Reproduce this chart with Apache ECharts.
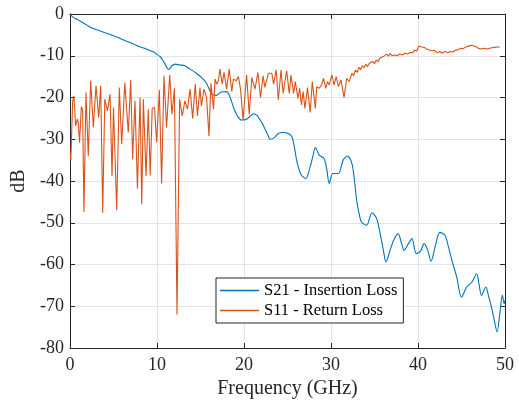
<!DOCTYPE html>
<html>
<head>
<meta charset="utf-8">
<script src="https://cdn.jsdelivr.net/npm/echarts@6/dist/echarts.min.js"></script>
<style>html,body{margin:0;padding:0;background:#fff;}#c{width:519px;height:406px;}</style>
</head>
<body>
<div id="c"></div>
<script>
// S21 - Insertion Loss
const s21Freq = [0,0.3,0.6,1.1,1.9,2.65,3.4,4.2,5.0,5.7,6.5,7.3,8.1,8.8,9.5,9.95,10.4,10.7,11.0,11.3,11.5,11.7,12.1,12.6,13.2,13.8,14.4,14.9,15.3,15.7,16.0,16.3,16.8,17.4,18.0,18.3,18.55,18.9,19.3,19.7,20.3,20.7,21.1,21.5,21.8,22.1,22.4,22.7,23.0,23.5,23.95,24.5,25.1,25.5,25.8,26.05,26.3,26.6,27.1,27.6,27.9,28.2,28.65,29.2,29.5,29.8,30.2,30.85,31.4,31.9,32.4,32.7,32.95,33.2,33.5,34.1,34.7,35.25,35.8,36.1,36.3,36.85,37.2,37.7,38.1,38.4,38.9,39.3,39.8,40.3,40.7,41.1,41.5,42.0,42.5,43.1,43.5,43.9,44.45,45.0,45.6,46.2,46.75,47.0,47.3,47.8,48.1,48.4,48.65,49.1,49.4,49.7,49.9,50.0];
const s21Db = [0,-0.7,-1.1,-1.6,-2.6,-3.5,-4.0,-4.6,-5.2,-5.8,-6.5,-7.2,-7.9,-8.4,-9.0,-9.6,-10.3,-11.2,-12.3,-13.3,-13.0,-12.4,-12.0,-12.2,-12.4,-13.2,-14.0,-14.8,-15.6,-16.6,-18.0,-19.2,-19.5,-18.7,-18.6,-19.4,-20.8,-23.0,-24.6,-25.4,-25.2,-24.5,-23.9,-24.3,-25.2,-26.2,-27.5,-28.8,-30.0,-29.6,-28.6,-28.4,-28.6,-29.4,-32.0,-35.0,-37.0,-38.6,-39.4,-36.6,-34.2,-32.0,-33.8,-34.6,-37.0,-40.6,-38.2,-38.2,-35.0,-34.0,-35.8,-40.0,-44.6,-47.5,-49.8,-50.6,-47.6,-49.0,-54.2,-57.5,-59.4,-56.2,-54.2,-52.6,-54.8,-56.6,-55.0,-53.8,-57.4,-56.8,-55.0,-56.5,-59.2,-55.5,-52.3,-53.0,-55.8,-59.0,-63.0,-67.8,-65.4,-64.2,-62.2,-64.5,-67.4,-65.4,-67.5,-69.8,-72.2,-76.1,-71.8,-67.4,-69.4,-68.5];
// S11 - Return Loss
const s11Freq = [0.03,0.1,0.3,0.45,0.65,0.85,0.95,1.1,1.3,1.45,1.6,1.84,2.1,2.38,2.68,2.99,3.3,3.53,3.76,4.0,4.3,4.6,4.83,5.0,5.14,5.37,5.67,5.94,6.3,6.7,6.98,7.2,7.47,7.75,8.05,8.25,8.43,8.74,9.0,9.22,9.45,9.72,9.96,10.27,10.53,10.8,11.1,11.46,11.72,12.0,12.3,12.6,12.9,13.2,13.5,13.8,14.1,14.4,14.65,14.94,15.1,15.4,15.7,15.97,16.2,16.5,16.67,16.86,17.05,17.24,17.5,17.7,18.0,18.3,18.6,18.78,19.1,19.35,19.6,19.9,20.3,20.6,20.9,21.26,21.6,21.9,22.2,22.4,22.8,23.2,23.4,23.7,23.95,24.25,24.5,24.9,25.2,25.4,25.7,25.9,26.2,26.4,26.6,26.8,27.0,27.3,27.6,27.85,28.2,28.35,28.65,28.9,29.15,29.4,29.6,29.8,30.1,30.35,30.6,30.85,31.15,31.5,31.8,32.1,32.4,32.6,32.8,33.0,33.2,33.4,33.6,33.8,34.0,34.2,34.4,34.6,34.8,35.0,35.2,35.4,35.6,35.8,36.0,36.2,36.4,36.6,36.8,37.0,37.3,37.6,37.9,38.2,38.5,38.8,39.1,39.4,39.6,39.85,40.1,40.4,40.7,41.0,41.3,41.6,41.9,42.2,42.5,42.8,43.1,43.4,43.7,44.0,44.3,44.6,44.9,45.2,45.5,45.8,46.1,46.4,46.7,47.0,47.3,47.6,47.9,48.2,48.5,48.8,49.1,49.4,49.7,50.0];
const s11Db = [-33,-35,-21,-19.6,-26.8,-25.2,-26,-30.8,-22.2,-23,-47.4,-18.8,-34,-16,-27.2,-17.2,-24.8,-17.2,-47.6,-20.4,-23.2,-19.2,-38.8,-22.4,-22.8,-47,-17.6,-31.2,-16.4,-28.4,-15.8,-34.8,-20.8,-41.8,-20,-45.6,-20.4,-38.8,-22.8,-38.6,-22.6,-22.4,-30.8,-18.2,-40.6,-14.8,-27.2,-14.6,-24,-17.8,-72,-20.4,-24.4,-20.8,-22.8,-18,-25,-16.8,-24.4,-17.6,-22,-18,-20,-29.2,-16.6,-22.8,-15.6,-16.8,-16,-13.2,-16.8,-14,-18,-13.2,-18.6,-15.6,-16,-15,-18,-25.4,-14.6,-24,-15.2,-18,-14,-20,-14.8,-17.6,-14.2,-14.2,-16.8,-13.4,-20.6,-13.4,-19,-13.6,-19,-14.6,-19,-16.2,-20.2,-17.8,-21.8,-18.6,-22.6,-17.6,-23.6,-16.2,-22.6,-17.4,-17.8,-17,-15.4,-17.8,-16.2,-17,-14.6,-17,-15,-17.4,-15.8,-20,-15.4,-16.2,-14.2,-14.8,-13.4,-14.0,-12.8,-13.3,-12.4,-12.9,-12.0,-12.6,-11.8,-12.2,-11.4,-11.9,-11.0,-11.5,-10.6,-10.9,-10.2,-10.6,-9.6,-10.1,-9.4,-10.0,-9.8,-10.0,-9.6,-9.8,-9.4,-9.6,-9.2,-9.3,-8.6,-8.9,-7.7,-7.9,-8.0,-8.4,-8.6,-8.8,-8.7,-9.3,-9.0,-9.4,-8.9,-9.3,-9.0,-9.1,-8.7,-8.6,-8.2,-8.3,-7.9,-7.7,-7.5,-7.6,-7.9,-8.3,-8.4,-8.2,-8.4,-8.2,-8.1,-8.0,-7.9,-7.9];

function pairs(xs, ys){ return xs.map((x,i)=>[x, ys[i]]); }

const FONT = 'Liberation Serif';
const AX = '#262626';
const chart = echarts.init(document.getElementById('c'), null, {renderer:'canvas'});
chart.setOption({
  animation:false,
  backgroundColor:'#fff',
  textStyle:{fontFamily:FONT},
  grid:{left:70, right:14, top:14, bottom:58, containLabel:false},
  xAxis:[{
    type:'value', min:0, max:50, interval:10, position:'bottom',
    name:'Frequency (GHz)', nameLocation:'middle', nameGap:31,
    nameTextStyle:{fontFamily:FONT, fontSize:20, color:AX},
    axisLine:{show:true, onZero:false, lineStyle:{color:AX, width:1}},
    axisTick:{show:true, inside:true, length:5, lineStyle:{color:AX}},
    axisLabel:{fontFamily:FONT, fontSize:18, color:AX, margin:8},
    splitLine:{show:true, lineStyle:{color:'#e3e3e3', width:1}}
  },{
    type:'value', min:0, max:50, interval:10, position:'top',
    axisLine:{show:true, onZero:false, lineStyle:{color:AX, width:1}},
    axisTick:{show:true, inside:true, length:5, lineStyle:{color:AX}},
    axisLabel:{show:false}, splitLine:{show:false}
  }],
  yAxis:[{
    type:'value', min:-80, max:0, interval:10, position:'left',
    name:'dB', nameLocation:'middle', nameGap:36,
    nameTextStyle:{fontFamily:FONT, fontSize:20, color:AX},
    axisLine:{show:true, onZero:false, lineStyle:{color:AX, width:1}},
    axisTick:{show:true, inside:true, length:5, lineStyle:{color:AX}},
    axisLabel:{fontFamily:FONT, fontSize:18, color:AX, margin:6},
    splitLine:{show:true, lineStyle:{color:'#e3e3e3', width:1}}
  },{
    type:'value', min:-80, max:0, interval:10, position:'right',
    axisLine:{show:true, onZero:false, lineStyle:{color:AX, width:1}},
    axisTick:{show:true, inside:true, length:5, lineStyle:{color:AX}},
    axisLabel:{show:false}, splitLine:{show:false}
  }],
  legend:{
    orient:'vertical', left:216, top:278,
    padding:[4,6,4,4], itemGap:3, itemWidth:39, itemHeight:1.3,
    icon:'rect',
    backgroundColor:'#fff', borderColor:AX, borderWidth:1, borderRadius:0,
    textStyle:{fontFamily:FONT, fontSize:16.5, color:'#000'},
    data:['S21 - Insertion Loss','S11 - Return Loss']
  },
  series:[{
    name:'S21 - Insertion Loss', type:'line', xAxisIndex:0, yAxisIndex:0,
    data:pairs(s21Freq, s21Db), showSymbol:false, symbol:'none', smooth:0.3,
    lineStyle:{color:'#0072BD', width:1.1}, itemStyle:{color:'#0072BD'}
  },{
    name:'S11 - Return Loss', type:'line', xAxisIndex:0, yAxisIndex:0,
    data:pairs(s11Freq, s11Db), showSymbol:false, symbol:'none',
    lineStyle:{color:'#D95319', width:1.1}, itemStyle:{color:'#D95319'}
  }]
});
</script>
</body>
</html>
